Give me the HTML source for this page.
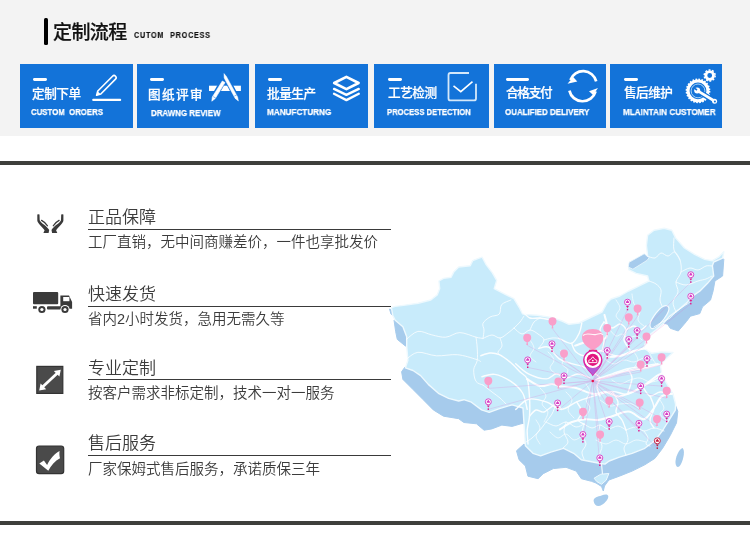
<!DOCTYPE html>
<html lang="zh-CN">
<head>
<meta charset="utf-8">
<title>定制流程</title>
<style>
*{margin:0;padding:0;box-sizing:border-box}
html,body{width:750px;height:559px;overflow:hidden;background:#fff}
body{position:relative;font-family:"Liberation Sans","Noto Sans CJK SC",sans-serif;color:#333}
.top{position:absolute;left:0;top:0;width:750px;height:136px;background:#f3f3f3}
.bar{position:absolute;left:43.7px;top:18.3px;width:4.2px;height:26.6px;background:#000;border-radius:1.5px}
.h1{position:absolute;left:52.5px;top:18.5px;font-size:19px;line-height:28px;font-weight:500;color:#111;white-space:nowrap;letter-spacing:-0.6px;-webkit-text-stroke:.2px #111}
.h1en{position:absolute;left:134px;top:29px;font-size:8.6px;line-height:12px;font-weight:700;color:#111;white-space:nowrap;letter-spacing:1px;word-spacing:3.8px;transform-origin:0 50%;transform:scaleX(.83);-webkit-text-stroke:.15px #111}
.box{position:absolute;top:64px;height:63.5px;background:#1373d9}
.dash{position:absolute;top:77.6px;height:3.2px;background:#fff;border-radius:1.4px}
.cn{position:absolute;font-size:12.6px;line-height:18px;font-weight:500;white-space:nowrap;color:#fff;-webkit-text-stroke:.22px #fff}
.en{position:absolute;font-size:9.6px;line-height:12px;font-weight:700;white-space:nowrap;transform-origin:0 50%;color:#fff;-webkit-text-stroke:.25px #fff}
.rule{position:absolute;left:0;width:750px;background:#3e3f3c}
.t,.s,.h1,.h1en,.cn,.en{will-change:transform}
.t{position:absolute;left:87.6px;font-size:17px;line-height:24px;color:#3c3c3c;white-space:nowrap;font-weight:350}
.l{position:absolute;left:87.5px;width:303px;height:1.1px;background:#3a3a3a}
.s{position:absolute;left:88px;font-size:14.5px;line-height:20px;color:#3c3c3c;white-space:nowrap;font-weight:350}
</style>
</head>
<body>
<div class="top">
<div class="bar"></div>
<div class="h1">定制流程</div>
<div class="h1en">CUTOM PROCESS</div>
<div class="box" style="left:20px;width:113px"></div><div class="dash" style="left:33px;width:13.7px"></div><div class="cn" style="left:32.2px;top:84.5px;letter-spacing:-0.45px">定制下单</div><div class="en" style="left:31.3px;top:105.6px;transform:scaleX(0.815)">CUSTOM&nbsp; OROERS</div>
<div class="box" style="left:137px;width:112px"></div><div class="dash" style="left:150px;width:14.2px"></div><div class="cn" style="left:147.9px;top:86.2px;letter-spacing:1.4px">图纸评审</div><div class="en" style="left:151.2px;top:106.6px;transform:scaleX(0.826)">DRAWNG REVIEW</div>
<div class="box" style="left:255px;width:113px"></div><div class="dash" style="left:268px;width:13.7px"></div><div class="cn" style="left:266.7px;top:85.3px;letter-spacing:-0.45px">批量生产</div><div class="en" style="left:267px;top:106.4px;transform:scaleX(0.849)">MANUFCTURNG</div>
<div class="box" style="left:374px;width:115px"></div><div class="dash" style="left:388px;width:13.7px"></div><div class="cn" style="left:387.5px;top:84.4px;letter-spacing:-0.45px">工艺检测</div><div class="en" style="left:386.7px;top:105.6px;transform:scaleX(0.798)">PROCESS DETECTION</div>
<div class="box" style="left:494px;width:112px"></div><div class="dash" style="left:506.2px;width:22.5px"></div><div class="cn" style="left:506.2px;top:84.4px;letter-spacing:-1.25px">合格支付</div><div class="en" style="left:505px;top:105.6px;transform:scaleX(0.828)">OUALIFIED DELIVERY</div>
<div class="box" style="left:610px;width:112px"></div><div class="dash" style="left:624.2px;width:13.6px"></div><div class="cn" style="left:623.8px;top:84.4px;letter-spacing:-0.5px">售后维护</div><div class="en" style="left:622.8px;top:105.6px;transform:scaleX(0.847)">MLAINTAIN CUSTOMER</div>
<svg width="750" height="136" viewBox="0 0 750 136" style="position:absolute;left:0;top:0" fill="none"><path d="M96.6,95.2 L97.8,91 L112.53,76.2 A2.1,2.1 0 0 1 115.5,79.17 L100.8,94 Z" fill="none" stroke="#fff" stroke-width="1.6" stroke-linejoin="round"/><path d="M96.4,95.4 L97.8,91.4 L100.4,94Z" fill="#fff"/><rect x="92.2" y="98.7" width="29" height="2.4" rx="1" fill="#fff"/>
<rect x="209" y="85.7" width="31.9" height="5.3" fill="#fff"/><path d="M223.4,80.6 L212,100.8" stroke="#1373d9" stroke-width="6"/><path d="M224.1,73.9 L238.2,100.8" stroke="#1373d9" stroke-width="5.6"/><path d="M222.3,81 L225,82.6 L215.2,98.6 L211.8,101.2 L212.3,97 Z" fill="#fff" stroke="#fff" stroke-width=".6" stroke-linejoin="round"/><path d="M224,73.6 L226.4,76.4 L237.6,97 L238.4,101 L235.2,98.4 L224.2,78 Z" fill="#fff" stroke="#fff" stroke-width=".5" stroke-linejoin="round"/><path d="M213.2,96.6 L215.6,98" stroke="#1373d9" stroke-width=".5"/><path d="M234.4,96 L236.8,94.8" stroke="#1373d9" stroke-width=".5"/>
<g fill="none" stroke="#fff" stroke-linejoin="round" stroke-linecap="round"><path d="M346.4,76.9 L358.6,83 L346.4,89.1 L334.2,83Z" stroke-width="2.7"/><path d="M334,88.9 L346.4,94.9 L358.8,88.9" stroke-width="2.3"/><path d="M334,93.8 L346.4,100.1 L358.8,93.8" stroke-width="2.3"/></g>
<path d="M469,73 H450.5 Q448.5,73 448.5,75 V98.4 Q448.5,100.4 450.5,100.4 H474 Q476,100.4 476,98.4 V83.8" fill="none" stroke="#d4e8fa" stroke-width="1.8"/><path d="M453.5,85.8 L460.8,91.6 L472.5,81.6" fill="none" stroke="#fff" stroke-width="1.6"/>
<g fill="none" stroke="#fff" stroke-width="2.7"><path d="M596.2,81.4 A13.5,13.5 0 0 0 570.4,80"/><path d="M569.4,90.6 A13.5,13.5 0 0 0 595.6,91.4"/></g><path d="M567.5,83.8 L573.2,77 L577.3,81.4Z" fill="#fff"/><path d="M598,87.9 L589,91.2 L593.1,94.9Z" fill="#fff"/>
<circle cx="698" cy="90.9" r="9.9" fill="none" stroke="#fff" stroke-width="3"/><circle cx="698" cy="90.9" r="11.6" fill="none" stroke="#fff" stroke-width="1.5" stroke-dasharray="1.7 1.34"/><circle cx="698" cy="90.9" r="6.9" fill="none" stroke="#a9d4f6" stroke-width="1"/><path d="M699,91.8 L714.4,101" stroke="#1373d9" stroke-width="5.4"/><path d="M698.6,91.4 L714.4,101" stroke="#fff" stroke-width="2.7" stroke-linecap="round"/><circle cx="697.2" cy="90.4" r="3" fill="#fff"/><path d="M693.6,87.6 l3.4,2.4" stroke="#1373d9" stroke-width="1.6"/><circle cx="714.6" cy="101.2" r="2.5" fill="#fff"/><circle cx="714.9" cy="101.4" r="1" fill="#1373d9"/><circle cx="709.7" cy="75.5" r="3.8" fill="none" stroke="#fff" stroke-width="2.8"/><circle cx="709.7" cy="75.5" r="5.5" fill="none" stroke="#fff" stroke-width="1.5" stroke-dasharray="1.9 1.55"/></svg>
</div>
<div class="rule" style="top:160.7px;height:4px"></div>
<svg class="map" width="750" height="559" viewBox="0 0 750 559" style="position:absolute;left:0;top:0">
<defs><filter id="sf" x="-5%" y="-5%" width="110%" height="110%"><feGaussianBlur stdDeviation="0.5"/></filter></defs>
<g filter="url(#sf)">
<polygon points="394,320 395.7,331.8 397.3,339.4 405.4,346 407,346 407,336 403,326.5 396,320" fill="#a6cbec" stroke="#a6cbec" stroke-width="1" stroke-linejoin="round"/>
<polygon points="389.5,309 391,314 394.5,316.5 393,311" fill="#a6cbec" stroke="#a6cbec" stroke-width="1" stroke-linejoin="round"/>
<polygon points="405,367 401.6,371.7 402.9,379.4 413,389.5 423.2,399.7 433.3,409.9 443.5,416.2 458.7,418.7 463.8,422.5 476.5,423.8 484.1,430.2 491.8,428.9 501.9,425.1 512.1,426.4 521,423.8 525,423 524,406 512.1,404 499.4,408 489.2,412 481.6,409.5 471.4,402 463.8,399.3 458.7,400.5 448.6,398 438.4,393 428.3,384 420.6,375.3 413,370" fill="#a6cbec" stroke="#a6cbec" stroke-width="1" stroke-linejoin="round"/>
<polygon points="524,444 516.5,450.8 519,459.7 525.4,466 527.9,476.2 538.1,478.7 543.2,473.7 553.3,468.6 566,467.3 576.2,471.1 581.3,478.7 591.4,481.3 596,483 601.5,486.5 603.3,491 604.5,486 608.9,480 619.4,476.2 632.1,471.1 644.8,464.8 654.9,458.4 662.6,448.3 670.2,435.6 676.5,422.9 677.8,411.4 675,404 668,420 662,430 654,440 644,448 632,453 619,457 609,460.5 603,464.5 600,464.5 594,462 581.3,459.3 573.7,453 563.5,448 550.8,451.8 540.6,455.5 533,453 525.4,445.3" fill="#a6cbec" stroke="#a6cbec" stroke-width="1" stroke-linejoin="round"/>
<polygon points="713.7,262 722.6,258.2 723.8,259.4 722.6,276 714.9,281 713.2,290.7 710.5,300.1 702.5,306.8 699.8,313.6 690.4,316.2 686.4,321.6 678.3,331 670.3,328.3 667.6,324.3 663.6,323 655.5,330.3 654,327 661.6,324.2 669.2,316.6 679.4,309 687,302.6 692.1,296.3 699.7,291.2 707.3,283.6 713.7,276 712.4,265.8" fill="#a6cbec" stroke="#a6cbec" stroke-width="1" stroke-linejoin="round"/>
<polygon points="650,322 655,316 661,309.5 665,306 668,307.5 667,312 662,318 657,324 653,327.5 650.5,326.5" fill="#a6cbec" stroke="#a6cbec" stroke-width="1" stroke-linejoin="round"/>
<polygon points="629.8,262 638.7,259.4 646,256 648.5,259.5 640,263.5 631,267.5" fill="#a6cbec" stroke="#a6cbec" stroke-width="1" stroke-linejoin="round"/>
<path d="M593.6,501 C593.4,497.5 598,496.5 601.5,495.5 C604.5,494.2 608,493.8 608.3,496.2 C608.5,499 605.5,502.5 602,504.8 C598.5,507 594.5,506.5 593.6,501Z" fill="#a6cbec"/>
<path d="M682.5,448 C685,450 684,458 681,464 C679,468 676,468 675.5,463 C675,458 679,449 682.5,448Z" fill="#a6cbec"/>
<polygon points="391.4,307.6 395.2,306.4 405.4,305.1 418.1,303.3 430.8,300 437.2,294.9 439.7,288.6 438.9,281 443.5,278.4 451.1,277.2 453.7,272.1 458.7,267 470.2,265.7 472.7,260.6 479.1,258.1 482.2,257.2 485.9,264.3 492.4,272.9 496.7,280.4 494.2,288.6 505.3,294.4 513.9,298.7 519.2,307.3 522.5,313.7 526,314.5 537.5,315.2 552.7,317.8 562,321 569,324.3 579.2,323 590.5,317.5 602.1,312 607,303 611,299 619.9,296 628.6,291 638.7,286.1 648.9,281 647.6,276 636.2,273.4 628.6,269.6 629.8,262 638.7,259.4 647.6,255.6 646.4,245.5 647.6,235.3 654,230.2 664.1,228.2 671.8,230.2 675.6,237.9 684.5,248 694.6,254.4 704.8,259.4 712.4,260.7 718.7,256.9 723.8,251.8 722.6,258.2 713.7,262 712.4,265.8 713.7,276 707.3,283.6 699.7,291.2 692.1,296.3 687,302.6 679.4,309 669.2,316.6 663.6,323 655.5,330.3 650,334.5 646.4,340.5 643.8,348.1 651.4,353.2 661.6,351.9 673,352.5 666.7,358.3 660.3,364.6 661.6,373.5 666.7,383.7 673,393.8 675.6,404 675.3,410.2 668.9,420.3 662.6,430.5 654.9,440.6 644.8,448.3 632.1,453.3 619.4,457.2 609.2,461 604.9,464.1 600.8,463.5 594,462.2 581.3,459.7 573.7,453.3 563.5,448.3 550.8,452.1 540.6,455.9 533,453.3 525.4,445.7 524.1,425.4 523,408 512.1,404.8 499.4,408.6 489.2,412.4 481.6,409.9 471.4,402.2 463.8,399.7 458.7,401 448.6,398.4 438.4,393.3 428.3,384.4 420.6,375.6 413,370.5 405.4,367.9 407.9,360.3 406.7,346.4 406.7,336.8 402.9,326.7 395.2,320.3 392.7,315.2" fill="#c8ebfb" stroke="#eef9fe" stroke-width="1.4" stroke-linejoin="round"/>
<polygon points="629.1,262.3 644.2,253.8 649.2,257.6 647,260.4 632.9,269.2 628.2,267" fill="#a6cbec" stroke="#eef9fe" stroke-width=".8" stroke-linejoin="round"/>
<path d="M651.2,328.3 C648,325.5 652,318.5 656,313.2 C660,308 664.5,304.5 667.5,306 C670.8,308 668,313.8 664,319 C660,324 654.5,330.5 651.2,328.3Z" fill="#a6cbec" stroke="#f4fbff" stroke-width="1.2" stroke-linejoin="round"/>
<polygon points="594.1,478.2 600.8,474.2 608.9,473.5 606.2,480.2 601.5,484.3 596.8,481.6" fill="#c8ebfb" stroke="#eef9fe" stroke-width="1" stroke-linejoin="round"/>
<path d="M601.5,464 L602.5,474" stroke="#eef9fe" stroke-width="1.2"/>
</g>
<g fill="none" stroke="#fff" stroke-width=".9" stroke-linecap="round" opacity=".85">
<path d="M406.3,339.5 C408.2,338.1 413.6,332.2 417.9,331.4 C422.2,330.6 427.2,333.9 431.9,334.9 C436.5,335.9 441.1,337.6 445.8,337.2 C450.5,336.8 454.8,332.6 459.8,332.6 C464.8,332.6 472.1,336.2 476,337.2 C479.9,338.2 481.8,338.2 483,338.4"/>
<path d="M406.3,359.3 C408.2,358.1 412.9,352.9 417.9,352.3 C422.9,351.7 429.9,355.4 436.5,355.8 C443.1,356.2 450.8,354.1 457.4,354.7 C464.0,355.3 472.1,358.1 476,359.3 C479.9,360.5 479.9,361.2 480.7,361.6"/>
<path d="M476,337.2 C476.2,339.0 477.0,344.1 477.2,348 C477.4,351.9 477.8,356.9 477.2,360.5 C476.6,364.1 473.9,366.3 473.7,369.8 C473.5,373.3 474.4,378.9 476,381.4 C477.6,383.9 481.8,384.4 483,385"/>
<path d="M483,338.4 C483.2,337.0 484.0,332.5 484,330 C484.0,327.5 482.0,325.5 483,323.3 C484.0,321.1 487.3,318.6 490,317 C492.7,315.4 497.4,316.1 499.3,314 C501.2,311.9 499.7,307.0 501.6,304.7 C503.5,302.4 509.3,300.8 510.9,300"/>
<path d="M483,338.4 C484.5,337.8 489.2,335.1 492,335 C494.8,334.9 497.3,338.3 500,338 C502.7,337.7 505.7,334.7 508,333 C510.3,331.3 512.0,329.8 514,328 C516.0,326.2 518.3,324.0 520,322 C521.7,320.0 523.3,317.0 524,316"/>
<path d="M500,338 C500.3,339.3 502.3,343.7 502,346 C501.7,348.3 498.4,350.6 498,352 C497.6,353.4 499.1,354.2 499.3,354.7"/>
<path d="M483,385 C484.5,386.2 489.2,389.8 492,392 C494.8,394.2 497.7,396.0 500,398 C502.3,400.0 505.0,403.0 506,404"/>
<path d="M514,328 C515.3,329.0 519.3,333.7 522,334 C524.7,334.3 527.3,330.0 530,330 C532.7,330.0 535.7,332.3 538,334 C540.3,335.7 543.9,337.6 544,340 C544.1,342.4 539.5,347.0 538.6,348.4"/>
<path d="M544,340 C545.3,339.7 549.5,338.3 552,338 C554.5,337.7 557.8,338.2 558.9,338.3"/>
<path d="M530,330 C530.7,328.7 532.3,324.0 534,322 C535.7,320.0 539.0,318.7 540,318"/>
<path d="M556,404 C555.3,405.7 553.7,411.0 552,414 C550.3,417.0 548.0,419.3 546,422 C544.0,424.7 542.3,427.3 540,430 C537.7,432.7 534.3,436.0 532,438 C529.7,440.0 527.0,441.3 526,442"/>
<path d="M546,422 C547.7,422.7 552.7,426.0 556,426 C559.3,426.0 562.7,421.8 566,422 C569.3,422.2 573.0,426.7 576,427 C579.0,427.3 582.7,424.5 584,424"/>
<path d="M566,422 C565.7,423.7 563.7,428.7 564,432 C564.3,435.3 568.2,439.3 568,442 C567.8,444.7 563.8,447.0 563,448"/>
<path d="M584,424 C585.3,424.7 589.3,427.8 592,428 C594.7,428.2 597.3,424.8 600,425 C602.7,425.2 605.0,428.8 608,429 C611.0,429.2 615.0,425.8 618,426 C621.0,426.2 624.7,429.3 626,430"/>
<path d="M600,425 C599.7,426.8 597.7,432.5 598,436 C598.3,439.5 601.8,442.7 602,446 C602.2,449.3 599.3,453.3 599,456 C598.7,458.7 599.8,461.0 600,462"/>
<path d="M626,430 C627.7,429.5 633.0,426.8 636,427 C639.0,427.2 641.0,430.8 644,431 C647.0,431.2 650.7,428.0 654,428 C657.3,428.0 662.3,430.5 664,431"/>
<path d="M626,430 C626.3,431.7 628.3,437.0 628,440 C627.7,443.0 624.3,445.5 624,448 C623.7,450.5 625.7,453.8 626,455"/>
<path d="M644,431 C644.7,432.2 647.7,435.8 648,438 C648.3,440.2 645.7,442.7 646,444 C646.3,445.3 649.3,445.7 650,446"/>
<path d="M584,424 C583.7,425.7 581.7,430.7 582,434 C582.3,437.3 586.0,441.0 586,444 C586.0,447.0 582.3,449.5 582,452 C581.7,454.5 583.7,457.8 584,459"/>
<path d="M654,327 C655.3,326.2 659.3,323.5 662,322 C664.7,320.5 667.7,319.7 670,318 C672.3,316.3 673.7,314.0 676,312 C678.3,310.0 681.7,307.7 684,306 C686.3,304.3 688.3,303.7 690,302 C691.7,300.3 693.3,297.0 694,296"/>
<path d="M676,312 C675.5,310.3 672.7,305.3 673,302 C673.3,298.7 677.5,295.3 678,292 C678.5,288.7 675.5,285.3 676,282 C676.5,278.7 680.3,275.7 681,272 C681.7,268.3 681.2,263.7 680,260 C678.8,256.3 675.0,253.7 674,250 C673.0,246.3 674.0,240.0 674,238"/>
<path d="M676,282 C677.7,282.5 682.3,285.2 686,285 C689.7,284.8 694.7,282.0 698,281 C701.3,280.0 703.7,279.8 706,279 C708.3,278.2 711.0,276.5 712,276"/>
<path d="M648.9,281 C650.1,281.5 654.0,282.5 656,284 C658.0,285.5 660.3,287.3 661,290 C661.7,292.7 659.8,297.3 660,300 C660.2,302.7 661.7,305.0 662,306"/>
<path d="M647,256 C648.3,256.3 652.7,258.5 655,258 C657.3,257.5 658.8,253.3 661,253 C663.2,252.7 665.7,256.2 668,256 C670.3,255.8 673.0,251.3 675,252 C677.0,252.7 679.2,258.7 680,260"/>
<path d="M681,272 C682.5,271.3 687.2,268.3 690,268 C692.8,267.7 695.3,270.3 698,270 C700.7,269.7 703.7,266.7 706,266 C708.3,265.3 711.0,266.0 712,266"/>
</g>
<g fill="none" stroke="#fff" stroke-width="1.4" stroke-linecap="round" stroke-linejoin="round" opacity=".92">
<path d="M480.7,355.8 C482.2,355.3 486.9,353.2 490,353 C493.1,352.8 495.8,353.1 499.3,354.7 C502.8,356.3 507.4,359.9 510.9,362.8 C514.4,365.7 517.5,369.4 520.2,372.1 C522.9,374.8 525.7,374.8 527.2,379.1 C528.8,383.4 529.1,391.5 529.5,397.7 C529.9,403.9 529.9,410.9 529.5,416.3 C529.1,421.7 527.5,425.4 527.2,430 C527.0,434.6 527.9,441.7 528,444"/>
<path d="M481.9,376.7 C484.0,376.3 489.9,373.6 494.7,374.4 C499.5,375.2 506.2,378.3 510.9,381.4 C515.5,384.5 519.9,388.4 522.6,393 C525.3,397.6 526.4,406.6 527.2,409.3"/>
<path d="M515.7,363.7 C517.8,365.4 523.3,371.3 528.4,373.8 C533.5,376.3 541.5,378.9 546.2,378.9 C550.9,378.9 553.1,373.9 556.4,373.8 C559.7,373.7 562.4,378.0 566,378 C569.6,378.0 574.0,374.0 578,374 C582.0,374.0 588.0,377.3 590,378"/>
<path d="M538.6,348.4 C540.3,348.2 545.3,345.5 548.7,347.2 C552.1,348.9 555.1,355.9 558.9,358.6 C562.7,361.4 567.8,362.4 571.6,363.7 C575.4,365.0 578.4,364.8 581.8,366.2 C585.2,367.6 590.3,371.0 592,372"/>
<path d="M558.9,338.3 C561.0,339.1 568.2,344.2 571.6,343.3 C575.0,342.4 577.5,336.6 579.2,333.2 C580.9,329.8 581.4,324.7 581.8,323"/>
<path d="M571.6,343.3 C572.3,344.8 573.6,349.9 576,352 C578.4,354.1 582.7,356.0 586,356 C589.3,356.0 593.3,352.8 596,352 C598.7,351.2 598.6,350.3 602.1,351 C605.6,351.7 612.2,356.0 617.3,356 C622.4,356.0 627.5,352.3 632.6,351 C637.7,349.7 645.3,348.8 647.8,348.4"/>
<path d="M515.7,409.4 C517.8,407.7 523.3,400.5 528.4,399.2 C533.5,397.9 540.7,400.1 546.2,401.8 C551.7,403.5 556.3,409.4 561.4,409.4 C566.5,409.4 571.6,403.9 576.7,401.8 C581.8,399.7 586.0,398.4 591.9,396.7 C597.8,395.0 606.3,392.0 612.2,391.6 C618.1,391.2 622.4,395.0 627.5,394.1 C632.6,393.2 637.3,389.4 642.7,386.5 C648.1,383.6 657.1,378.1 660,376.4"/>
<path d="M597,378.9 C599.5,378.0 607.1,375.5 612.2,373.8 C617.3,372.1 622.4,370.0 627.5,368.7 C632.6,367.4 637.6,367.0 642.7,366.2 C647.8,365.4 655.5,364.1 658,363.7"/>
<path d="M602.1,351 C602.4,349.2 604.4,343.5 604,340 C603.6,336.5 600.0,333.0 600,330 C600.0,327.0 603.3,323.3 604,322"/>
<path d="M604,322 C605.3,323.0 609.3,327.7 612,328 C614.7,328.3 617.7,323.7 620,324 C622.3,324.3 625.3,327.3 626,330 C626.7,332.7 623.3,336.7 624,340 C624.7,343.3 629.0,348.3 630,350"/>
<path d="M626,330 C627.3,329.3 631.7,326.0 634,326 C636.3,326.0 638.0,330.0 640,330 C642.0,330.0 645.0,326.7 646,326"/>
<path d="M612.2,391.6 C613.2,393.3 617.4,398.6 618,402 C618.6,405.4 615.3,409.0 616,412 C616.7,415.0 620.3,417.0 622,420 C623.7,423.0 625.3,428.3 626,430"/>
<path d="M576.7,401.8 C577.6,403.5 581.8,409.0 582,412 C582.2,415.0 577.7,418.0 578,420 C578.3,422.0 583.0,423.3 584,424"/>
<path d="M642.7,386.5 C643.9,388.1 647.1,395.1 650,396 C652.9,396.9 656.3,392.3 660,392 C663.7,391.7 670.0,393.7 672,394"/>
<path d="M650,396 C650.7,398.0 654.0,404.0 654,408 C654.0,412.0 650.0,416.7 650,420 C650.0,423.3 653.3,426.7 654,428"/>
<path d="M529.5,416.3 C530.6,415.2 533.6,410.7 536,410 C538.4,409.3 540.7,413.0 544,412 C547.3,411.0 553.1,404.4 556,404 C558.9,403.6 560.5,408.5 561.4,409.4"/>
<path d="M592,372 C593.3,373.0 599.2,375.7 600,378 C600.8,380.3 597.0,383.0 597,386 C597.0,389.0 599.5,394.3 600,396"/>
<path d="M627.5,368.7 C628.2,370.2 632.0,373.8 632,378 C632.0,382.2 628.2,391.4 627.5,394.1"/>
<path d="M523,312 C524.2,313.0 527.2,317.0 530,318 C532.8,319.0 536.3,317.7 540,318 C543.7,318.3 550.0,319.7 552,320"/>
</g>
<g fill="none" stroke="#fff" stroke-width="2" stroke-linecap="round" stroke-linejoin="round" opacity=".95">
<path d="M607,357 C609.2,356.8 615.8,356.8 620,356 C624.2,355.2 628.0,353.3 632,352 C636.0,350.7 641.8,348.8 643.8,348.1"/>
<path d="M596,380 C598.5,379.3 606.5,377.3 610.8,376 C615.1,374.7 618.2,373.1 622,372 C625.8,370.9 629.7,370.4 633.7,369.7 C637.7,369.0 641.8,368.9 646,368 C650.2,367.1 656.8,365.2 659,364.6"/>
<path d="M560,386.2 C562.7,386.5 570.5,386.7 576,388 C581.5,389.3 588.0,393.1 593,393.8 C598.0,394.5 601.8,391.6 606,392 C610.2,392.4 613.8,396.5 618.4,396.4 C623.0,396.3 629.1,393.4 633.7,391.3 C638.3,389.2 642.2,386.6 646,384 C649.8,381.4 653.9,377.8 656.5,376 C659.1,374.2 660.8,373.9 661.6,373.5"/>
<path d="M560,429.4 C562.0,428.2 567.8,423.7 572,422 C576.2,420.3 581.1,419.5 585.4,419.2 C589.7,418.9 593.8,420.4 598,420 C602.2,419.6 605.7,418.1 610.8,416.7 C615.9,415.3 623.1,411.2 628.6,411.6 C634.1,412.0 639.6,419.8 643.8,419.2 C648.0,418.6 651.0,411.8 654,408 C657.0,404.2 658.6,398.8 661.6,396.4 C664.6,394.0 670.1,394.2 671.8,393.8"/>
<path d="M604.5,315 C604.9,316.8 606.8,322.2 607,326 C607.2,329.8 608.2,335.7 605.7,338 C603.2,340.3 597.1,338.7 592,340 C586.9,341.3 578.0,344.7 575.2,345.6"/>
<path d="M527,379 C529.2,380.2 535.8,385.2 540,386 C544.2,386.8 548.7,384.0 552,384 C555.3,384.0 558.7,385.8 560,386.2"/>
</g>
<g fill="none" stroke="#fff" stroke-width=".8" stroke-linecap="round" opacity=".8">
<path d="M606,360 C607.3,360.7 611.0,364.0 614,364 C617.0,364.0 620.7,360.3 624,360 C627.3,359.7 630.7,362.3 634,362 C637.3,361.7 641.0,358.3 644,358 C647.0,357.7 650.7,359.7 652,360"/>
<path d="M612,380 C613.3,380.7 617.0,384.0 620,384 C623.0,384.0 626.7,381.0 630,380 C633.3,379.0 636.7,377.7 640,378 C643.3,378.3 646.7,381.7 650,382 C653.3,382.3 658.3,380.3 660,380"/>
<path d="M600,400 C601.7,401.0 606.7,405.3 610,406 C613.3,406.7 616.3,404.3 620,404 C623.7,403.7 628.7,403.0 632,404 C635.3,405.0 638.7,409.0 640,410"/>
<path d="M566,392 C567.0,393.3 571.7,397.0 572,400 C572.3,403.0 567.7,407.0 568,410 C568.3,413.0 573.0,416.7 574,418"/>
<path d="M586,384 C586.7,385.3 590.0,389.3 590,392 C590.0,394.7 586.0,397.3 586,400 C586.0,402.7 590.0,405.3 590,408 C590.0,410.7 586.7,414.7 586,416"/>
<path d="M634,352 C634.7,353.3 638.0,357.3 638,360 C638.0,362.7 634.7,366.7 634,368"/>
<path d="M648,350 C648.7,351.3 650.7,355.7 652,358 C653.3,360.3 655.3,363.0 656,364"/>
<path d="M540,388 C541.0,389.3 545.7,393.3 546,396 C546.3,398.7 541.7,401.3 542,404 C542.3,406.7 547.7,409.0 548,412 C548.3,415.0 544.7,420.3 544,422"/>
<path d="M610,330 C611.0,331.0 614.0,335.3 616,336 C618.0,336.7 620.0,333.7 622,334 C624.0,334.3 625.7,337.7 628,338 C630.3,338.3 633.7,335.7 636,336 C638.3,336.3 641.0,339.3 642,340"/>
<path d="M616,300 C616.7,301.3 620.0,305.3 620,308 C620.0,310.7 615.7,313.7 616,316 C616.3,318.3 621.0,321.0 622,322"/>
<path d="M632,294 C632.3,295.7 632.7,301.3 634,304 C635.3,306.7 639.3,307.3 640,310 C640.7,312.7 637.3,317.3 638,320 C638.7,322.7 643.0,325.0 644,326"/>
<path d="M560,350 C561.0,351.0 565.7,353.7 566,356 C566.3,358.3 561.7,361.7 562,364 C562.3,366.3 567.7,367.7 568,370 C568.3,372.3 564.7,376.7 564,378"/>
<path d="M548,352 C549.0,353.3 553.7,357.3 554,360 C554.3,362.7 549.7,365.7 550,368 C550.3,370.3 555.0,373.0 556,374"/>
<path d="M530,340 C530.7,341.3 534.0,345.3 534,348 C534.0,350.7 529.7,353.7 530,356 C530.3,358.3 535.0,361.0 536,362"/>
<path d="M660,400 C660.7,401.3 664.0,405.7 664,408 C664.0,410.3 659.7,412.0 660,414 C660.3,416.0 665.0,419.0 666,420"/>
<path d="M596,440 C597.7,440.7 602.7,444.0 606,444 C609.3,444.0 612.7,440.0 616,440 C619.3,440.0 622.7,444.0 626,444 C629.3,444.0 632.7,440.3 636,440 C639.3,439.7 644.3,441.7 646,442"/>
<path d="M550,432 C551.3,433.0 555.3,437.7 558,438 C560.7,438.3 563.3,433.7 566,434 C568.7,434.3 571.3,439.7 574,440 C576.7,440.3 580.7,436.7 582,436"/>
<path d="M536,420 C536.7,421.3 540.0,425.3 540,428 C540.0,430.7 536.0,433.3 536,436 C536.0,438.7 539.3,442.7 540,444"/>
</g>
<g stroke="#e060c8" stroke-width=".5" opacity=".38">
<line x1="592.8" y1="381" x2="552.5" y2="328.8"/>
<line x1="592.8" y1="381" x2="527.2" y2="345.3"/>
<line x1="592.8" y1="381" x2="607.2" y2="335.6"/>
<line x1="592.8" y1="381" x2="628.8" y2="324.9"/>
<line x1="592.8" y1="381" x2="637.6" y2="316"/>
<line x1="592.8" y1="381" x2="564" y2="361"/>
<line x1="592.8" y1="381" x2="488.3" y2="388.4"/>
<line x1="592.8" y1="381" x2="558.4" y2="389"/>
<line x1="592.8" y1="381" x2="609.2" y2="408"/>
<line x1="592.8" y1="381" x2="583" y2="419.4"/>
<line x1="592.8" y1="381" x2="639.7" y2="410"/>
<line x1="592.8" y1="381" x2="646.5" y2="344"/>
<line x1="592.8" y1="381" x2="640.7" y2="372"/>
<line x1="592.8" y1="381" x2="657" y2="426.5"/>
<line x1="592.8" y1="381" x2="661.6" y2="364.8"/>
<line x1="592.8" y1="381" x2="666.7" y2="398.3"/>
<line x1="592.8" y1="381" x2="600.1" y2="442"/>
<line x1="592.8" y1="381" x2="627.5" y2="309.7"/>
<line x1="592.8" y1="381" x2="637.1" y2="338.1"/>
<line x1="592.8" y1="381" x2="628.8" y2="347.0"/>
<line x1="592.8" y1="381" x2="552" y2="351.3"/>
<line x1="592.8" y1="381" x2="607.2" y2="358.0"/>
<line x1="592.8" y1="381" x2="527.7" y2="367.4"/>
<line x1="592.8" y1="381" x2="647" y2="366.1"/>
<line x1="592.8" y1="381" x2="564" y2="383.4"/>
<line x1="592.8" y1="381" x2="640.7" y2="393.5"/>
<line x1="592.8" y1="381" x2="488.3" y2="409.3"/>
<line x1="592.8" y1="381" x2="557.6" y2="410.5"/>
<line x1="592.8" y1="381" x2="609.2" y2="429.1"/>
<line x1="592.8" y1="381" x2="638.9" y2="430.9"/>
<line x1="592.8" y1="381" x2="690.8" y2="282.2"/>
<line x1="592.8" y1="381" x2="690.8" y2="303.8"/>
<line x1="592.8" y1="381" x2="661.6" y2="386.1"/>
<line x1="592.8" y1="381" x2="666.7" y2="421.6"/>
<line x1="592.8" y1="381" x2="582.9" y2="442.0"/>
<line x1="592.8" y1="381" x2="657.3" y2="448.3"/>
<line x1="592.8" y1="381" x2="599.8" y2="465.4"/>
</g>
<g fill="#f99fca">
<path d="M551.6,328.40000000000003 h1.8 L553.0,325.8 C555.5,325.0 556.5,323.0 556.5,321.2 A4,4 0 0 0 548.5,321.2 C548.5,323.0 549.5,325.0 552.0,325.8Z"/>
<path d="M526.3000000000001,344.90000000000003 h1.8 L527.7,342.3 C530.2,341.5 531.2,339.5 531.2,337.7 A4,4 0 0 0 523.2,337.7 C523.2,339.5 524.2,341.5 526.7,342.3Z"/>
<path d="M606.3000000000001,335.20000000000005 h1.8 L607.7,332.6 C610.2,331.8 611.2,329.8 611.2,328.0 A4,4 0 0 0 603.2,328.0 C603.2,329.8 604.2,331.8 606.7,332.6Z"/>
<path d="M627.9,324.5 h1.8 L629.3,321.9 C631.8,321.09999999999997 632.8,319.09999999999997 632.8,317.29999999999995 A4,4 0 0 0 624.8,317.29999999999995 C624.8,319.09999999999997 625.8,321.09999999999997 628.3,321.9Z"/>
<path d="M636.7,315.6 h1.8 L638.1,313 C640.6,312.2 641.6,310.2 641.6,308.4 A4,4 0 0 0 633.6,308.4 C633.6,310.2 634.6,312.2 637.1,313Z"/>
<path d="M563.1,360.6 h1.8 L564.5,358 C567,357.2 568,355.2 568,353.4 A4,4 0 0 0 560,353.4 C560,355.2 561,357.2 563.5,358Z"/>
<path d="M487.40000000000003,388.0 h1.8 L488.8,385.4 C491.3,384.59999999999997 492.3,382.59999999999997 492.3,380.79999999999995 A4,4 0 0 0 484.3,380.79999999999995 C484.3,382.59999999999997 485.3,384.59999999999997 487.8,385.4Z"/>
<path d="M557.5,388.6 h1.8 L558.9,386 C561.4,385.2 562.4,383.2 562.4,381.4 A4,4 0 0 0 554.4,381.4 C554.4,383.2 555.4,385.2 557.9,386Z"/>
<path d="M608.3000000000001,407.6 h1.8 L609.7,405 C612.2,404.2 613.2,402.2 613.2,400.4 A4,4 0 0 0 605.2,400.4 C605.2,402.2 606.2,404.2 608.7,405Z"/>
<path d="M582.1,419.0 h1.8 L583.5,416.4 C586,415.59999999999997 587,413.59999999999997 587,411.79999999999995 A4,4 0 0 0 579,411.79999999999995 C579,413.59999999999997 580,415.59999999999997 582.5,416.4Z"/>
<path d="M638.8000000000001,409.6 h1.8 L640.2,407 C642.7,406.2 643.7,404.2 643.7,402.4 A4,4 0 0 0 635.7,402.4 C635.7,404.2 636.7,406.2 639.2,407Z"/>
<path d="M645.6,343.6 h1.8 L647.0,341 C649.5,340.2 650.5,338.2 650.5,336.4 A4,4 0 0 0 642.5,336.4 C642.5,338.2 643.5,340.2 646.0,341Z"/>
<path d="M639.8000000000001,371.6 h1.8 L641.2,369 C643.7,368.2 644.7,366.2 644.7,364.4 A4,4 0 0 0 636.7,364.4 C636.7,366.2 637.7,368.2 640.2,369Z"/>
<path d="M656.1,426.1 h1.8 L657.5,423.5 C660,422.7 661,420.7 661,418.9 A4,4 0 0 0 653,418.9 C653,420.7 654,422.7 656.5,423.5Z"/>
<path d="M660.7,364.40000000000003 h1.8 L662.1,361.8 C664.6,361.0 665.6,359.0 665.6,357.2 A4,4 0 0 0 657.6,357.2 C657.6,359.0 658.6,361.0 661.1,361.8Z"/>
<path d="M665.8000000000001,397.90000000000003 h1.8 L667.2,395.3 C669.7,394.5 670.7,392.5 670.7,390.7 A4,4 0 0 0 662.7,390.7 C662.7,392.5 663.7,394.5 666.2,395.3Z"/>
<path d="M599.2,441.6 h1.8 L600.6,439 C603.1,438.2 604.1,436.2 604.1,434.4 A4,4 0 0 0 596.1,434.4 C596.1,436.2 597.1,438.2 599.6,439Z"/>
</g>
<g>
<circle cx="627.5" cy="302.2" r="3" fill="#fff" stroke="#d63cc4" stroke-width=".9"/><path d="M625.8,303.09999999999997h3.4l-.5,-1.5 -1.2,-1.5 -1.2,1.5z" fill="#d63cc4"/><path d="M626.0,305.9h3l-1.5,2z" fill="#e0188c"/><rect x="626.8" y="308.8" width="1.4" height="1.5" fill="#e0188c"/>
<circle cx="637.1" cy="330.6" r="3" fill="#fff" stroke="#d63cc4" stroke-width=".9"/><path d="M635.4,331.5h3.4l-.5,-1.5 -1.2,-1.5 -1.2,1.5z" fill="#d63cc4"/><path d="M635.6,334.3h3l-1.5,2z" fill="#e0188c"/><rect x="636.4" y="337.20000000000005" width="1.4" height="1.5" fill="#e0188c"/>
<circle cx="628.8" cy="339.5" r="3" fill="#fff" stroke="#d63cc4" stroke-width=".9"/><path d="M627.0999999999999,340.4h3.4l-.5,-1.5 -1.2,-1.5 -1.2,1.5z" fill="#d63cc4"/><path d="M627.3,343.2h3l-1.5,2z" fill="#e0188c"/><rect x="628.0999999999999" y="346.1" width="1.4" height="1.5" fill="#e0188c"/>
<circle cx="552" cy="343.8" r="3" fill="#fff" stroke="#d63cc4" stroke-width=".9"/><path d="M550.3,344.7h3.4l-.5,-1.5 -1.2,-1.5 -1.2,1.5z" fill="#d63cc4"/><path d="M550.5,347.5h3l-1.5,2z" fill="#e0188c"/><rect x="551.3" y="350.40000000000003" width="1.4" height="1.5" fill="#e0188c"/>
<circle cx="607.2" cy="350.5" r="3" fill="#fff" stroke="#d63cc4" stroke-width=".9"/><path d="M605.5,351.4h3.4l-.5,-1.5 -1.2,-1.5 -1.2,1.5z" fill="#d63cc4"/><path d="M605.7,354.2h3l-1.5,2z" fill="#e0188c"/><rect x="606.5" y="357.1" width="1.4" height="1.5" fill="#e0188c"/>
<circle cx="527.7" cy="359.9" r="3" fill="#fff" stroke="#d63cc4" stroke-width=".9"/><path d="M526.0,360.79999999999995h3.4l-.5,-1.5 -1.2,-1.5 -1.2,1.5z" fill="#d63cc4"/><path d="M526.2,363.59999999999997h3l-1.5,2z" fill="#e0188c"/><rect x="527.0" y="366.5" width="1.4" height="1.5" fill="#e0188c"/>
<circle cx="647" cy="358.6" r="3" fill="#fff" stroke="#d63cc4" stroke-width=".9"/><path d="M645.3,359.5h3.4l-.5,-1.5 -1.2,-1.5 -1.2,1.5z" fill="#d63cc4"/><path d="M645.5,362.3h3l-1.5,2z" fill="#e0188c"/><rect x="646.3" y="365.20000000000005" width="1.4" height="1.5" fill="#e0188c"/>
<circle cx="564" cy="375.9" r="3" fill="#fff" stroke="#d63cc4" stroke-width=".9"/><path d="M562.3,376.79999999999995h3.4l-.5,-1.5 -1.2,-1.5 -1.2,1.5z" fill="#d63cc4"/><path d="M562.5,379.59999999999997h3l-1.5,2z" fill="#e0188c"/><rect x="563.3" y="382.5" width="1.4" height="1.5" fill="#e0188c"/>
<circle cx="640.7" cy="386" r="3" fill="#fff" stroke="#d63cc4" stroke-width=".9"/><path d="M639.0,386.9h3.4l-.5,-1.5 -1.2,-1.5 -1.2,1.5z" fill="#d63cc4"/><path d="M639.2,389.7h3l-1.5,2z" fill="#e0188c"/><rect x="640.0" y="392.6" width="1.4" height="1.5" fill="#e0188c"/>
<circle cx="488.3" cy="401.8" r="3" fill="#fff" stroke="#d63cc4" stroke-width=".9"/><path d="M486.6,402.7h3.4l-.5,-1.5 -1.2,-1.5 -1.2,1.5z" fill="#d63cc4"/><path d="M486.8,405.5h3l-1.5,2z" fill="#e0188c"/><rect x="487.6" y="408.40000000000003" width="1.4" height="1.5" fill="#e0188c"/>
<circle cx="557.6" cy="403" r="3" fill="#fff" stroke="#d63cc4" stroke-width=".9"/><path d="M555.9,403.9h3.4l-.5,-1.5 -1.2,-1.5 -1.2,1.5z" fill="#d63cc4"/><path d="M556.1,406.7h3l-1.5,2z" fill="#e0188c"/><rect x="556.9" y="409.6" width="1.4" height="1.5" fill="#e0188c"/>
<circle cx="609.2" cy="421.6" r="3" fill="#fff" stroke="#d63cc4" stroke-width=".9"/><path d="M607.5,422.5h3.4l-.5,-1.5 -1.2,-1.5 -1.2,1.5z" fill="#d63cc4"/><path d="M607.7,425.3h3l-1.5,2z" fill="#e0188c"/><rect x="608.5" y="428.20000000000005" width="1.4" height="1.5" fill="#e0188c"/>
<circle cx="638.9" cy="423.4" r="3" fill="#fff" stroke="#d63cc4" stroke-width=".9"/><path d="M637.1999999999999,424.29999999999995h3.4l-.5,-1.5 -1.2,-1.5 -1.2,1.5z" fill="#d63cc4"/><path d="M637.4,427.09999999999997h3l-1.5,2z" fill="#e0188c"/><rect x="638.1999999999999" y="430.0" width="1.4" height="1.5" fill="#e0188c"/>
<circle cx="690.8" cy="274.7" r="3" fill="#fff" stroke="#d63cc4" stroke-width=".9"/><path d="M689.0999999999999,275.59999999999997h3.4l-.5,-1.5 -1.2,-1.5 -1.2,1.5z" fill="#d63cc4"/><path d="M689.3,278.4h3l-1.5,2z" fill="#e0188c"/><rect x="690.0999999999999" y="281.3" width="1.4" height="1.5" fill="#e0188c"/>
<circle cx="690.8" cy="296.3" r="3" fill="#fff" stroke="#d63cc4" stroke-width=".9"/><path d="M689.0999999999999,297.2h3.4l-.5,-1.5 -1.2,-1.5 -1.2,1.5z" fill="#d63cc4"/><path d="M689.3,300.0h3l-1.5,2z" fill="#e0188c"/><rect x="690.0999999999999" y="302.90000000000003" width="1.4" height="1.5" fill="#e0188c"/>
<circle cx="661.6" cy="378.6" r="3" fill="#fff" stroke="#d63cc4" stroke-width=".9"/><path d="M659.9,379.5h3.4l-.5,-1.5 -1.2,-1.5 -1.2,1.5z" fill="#d63cc4"/><path d="M660.1,382.3h3l-1.5,2z" fill="#e0188c"/><rect x="660.9" y="385.20000000000005" width="1.4" height="1.5" fill="#e0188c"/>
<circle cx="666.7" cy="414.1" r="3" fill="#fff" stroke="#d63cc4" stroke-width=".9"/><path d="M665.0,415.0h3.4l-.5,-1.5 -1.2,-1.5 -1.2,1.5z" fill="#d63cc4"/><path d="M665.2,417.8h3l-1.5,2z" fill="#e0188c"/><rect x="666.0" y="420.70000000000005" width="1.4" height="1.5" fill="#e0188c"/>
<circle cx="582.9" cy="434.5" r="3" fill="#fff" stroke="#d63cc4" stroke-width=".9"/><path d="M581.1999999999999,435.4h3.4l-.5,-1.5 -1.2,-1.5 -1.2,1.5z" fill="#d63cc4"/><path d="M581.4,438.2h3l-1.5,2z" fill="#e0188c"/><rect x="582.1999999999999" y="441.1" width="1.4" height="1.5" fill="#e0188c"/>
<circle cx="657.3" cy="440.8" r="3" fill="#fff" stroke="#c4163c" stroke-width=".9"/><path d="M655.5999999999999,441.7h3.4l-.5,-1.5 -1.2,-1.5 -1.2,1.5z" fill="#c4163c"/><path d="M655.8,444.5h3l-1.5,2z" fill="#c4163c"/><rect x="656.5999999999999" y="447.40000000000003" width="1.4" height="1.5" fill="#c4163c"/>
<circle cx="599.8" cy="457.9" r="3" fill="#fff" stroke="#d63cc4" stroke-width=".9"/><path d="M598.0999999999999,458.79999999999995h3.4l-.5,-1.5 -1.2,-1.5 -1.2,1.5z" fill="#d63cc4"/><path d="M598.3,461.59999999999997h3l-1.5,2z" fill="#e0188c"/><rect x="599.0999999999999" y="464.5" width="1.4" height="1.5" fill="#e0188c"/>
</g>
<path d="M592.8,350.5 C588,347.5 582,343.5 582,337.5 C582,332 587,329 592.8,329 C598.6,329 603.4,332 603.4,337.5 C603.4,343.5 597.6,347.5 592.8,350.5Z" fill="#fa9fc8"/>
<path d="M583,335.5 C587,332 592,335.5 596,334.5 S601,332.5 603,335" fill="none" stroke="#fff" stroke-width="1.1" opacity=".9"/>
<rect x="588.8" y="349.8" width="8.4" height="2.2" rx="1" fill="#f0285a"/>
<path d="M592.8,376.2 C589.5,371.5 583.1,366.5 583.1,359.8 A9.7,9.7 0 1 1 602.5,359.8 C602.5,366.5 596.1,371.5 592.8,376.2Z" fill="#dd22a0"/>
<path d="M592.8,375 C590.5,371.5 587,369.5 585.6,366.2 Q592.8,370 600,366.2 C598.6,369.5 595.1,371.5 592.8,375Z" fill="#b45ad6"/>
<circle cx="592.8" cy="359.8" r="8.3" fill="#fff"/><circle cx="592.8" cy="359.8" r="6.1" fill="#e2157e"/>
<path d="M588.8,362.6 h8 v-2.4 l-1.7,-.6 -2.3,-2.8 -2.3,2.8 -1.7,.6z" fill="none" stroke="#fff" stroke-width=".9" stroke-linejoin="round"/><circle cx="592.8" cy="360.6" r=".9" fill="#fff"/>
<circle cx="592.8" cy="381" r="1.3" fill="#e6174e"/>
</svg>
<div class="t" style="top:206px">正品保障</div><div class="l" style="top:229px"></div><div class="s" style="top:232.1px">工厂直销，无中间商赚差价，一件也享批发价</div>
<div class="t" style="top:282.7px">快速发货</div><div class="l" style="top:305.8px"></div><div class="s" style="top:308.8px">省内2小时发货，急用无需久等</div>
<div class="t" style="top:356.7px">专业定制</div><div class="l" style="top:379.1px"></div><div class="s" style="top:383.4px">按客户需求非标定制，技术一对一服务</div>
<div class="t" style="top:431.5px">售后服务</div><div class="l" style="top:454.6px"></div><div class="s" style="top:459px">厂家保姆式售后服务，承诺质保三年</div>
<svg width="100" height="559" viewBox="0 0 100 559" style="position:absolute;left:0;top:0">
<g fill="#3a3a3a">
<path d="M37.3,214.6 Q38.4,213.8 39.5,214.6 L39.7,220.2 C40.6,223 47.6,226.4 49.2,230 L48.6,233 L43.4,233 L44.6,230.2 C42.4,226.6 37.6,223.6 37.3,220.4Z"/>
<path d="M63.4,214.6 Q62.3,213.8 61.2,214.6 L61,220.2 C60.1,223 53.1,226.4 51.5,230 L52.1,233 L57.3,233 L56.1,230.2 C58.3,226.6 63.1,223.6 63.4,220.4Z"/>
</g>
<g fill="none" stroke="#3a3a3a" stroke-width="1.3" stroke-linecap="round"><path d="M41.6,220.4 Q45.6,222.6 47.4,225.8"/><path d="M59.1,220.4 Q55.1,222.6 53.3,225.8"/></g>
<g fill="#3a3a3a">
<rect x="33" y="292" width="25.2" height="12.3" rx="1"/>
<path d="M60.4,295.4 H69 L72.1,302 V308.8 H60.4Z"/>
<rect x="47" y="306.2" width="15" height="3.2" rx="1"/>
<rect x="33" y="306.2" width="3.8" height="2.5"/>
<circle cx="41.9" cy="309.5" r="4.6" fill="#fff"/><circle cx="65" cy="309.5" r="4.6" fill="#fff"/>
<circle cx="41.9" cy="309.5" r="3.6"/><circle cx="65" cy="309.5" r="3.6"/>
</g>
<rect x="63.2" y="297" width="6.2" height="4.2" fill="#fff"/>
<circle cx="41.9" cy="309.5" r="1.6" fill="#fff"/><circle cx="65" cy="309.5" r="1.6" fill="#fff"/>
<rect x="36.8" y="366.4" width="26" height="27" fill="#4a4a4a" stroke="#333" stroke-width="1.2"/>
<path d="M42.5,387 L57.5,373" stroke="#fff" stroke-width="2.8"/>
<path d="M39.2,390.4 L40.6,383.6 L46.2,389.2Z M60.8,369.8 L59.4,376.6 L53.8,371Z" fill="#fff"/>
<rect x="36.5" y="446" width="27.2" height="27.6" rx="2.6" fill="#4a4a4a" stroke="#333" stroke-width="1.2"/>
<path d="M39.3,463.6 L43.9,460.6 L47.1,465 C50,459 55,453.5 59.6,451.1 C59.2,453.5 59.4,456 60,458.3 C55,461 51,465.5 48.3,470.8Z" fill="#fff"/>
</svg>
<div class="rule" style="top:521px;height:4px"></div>
</body>
</html>
